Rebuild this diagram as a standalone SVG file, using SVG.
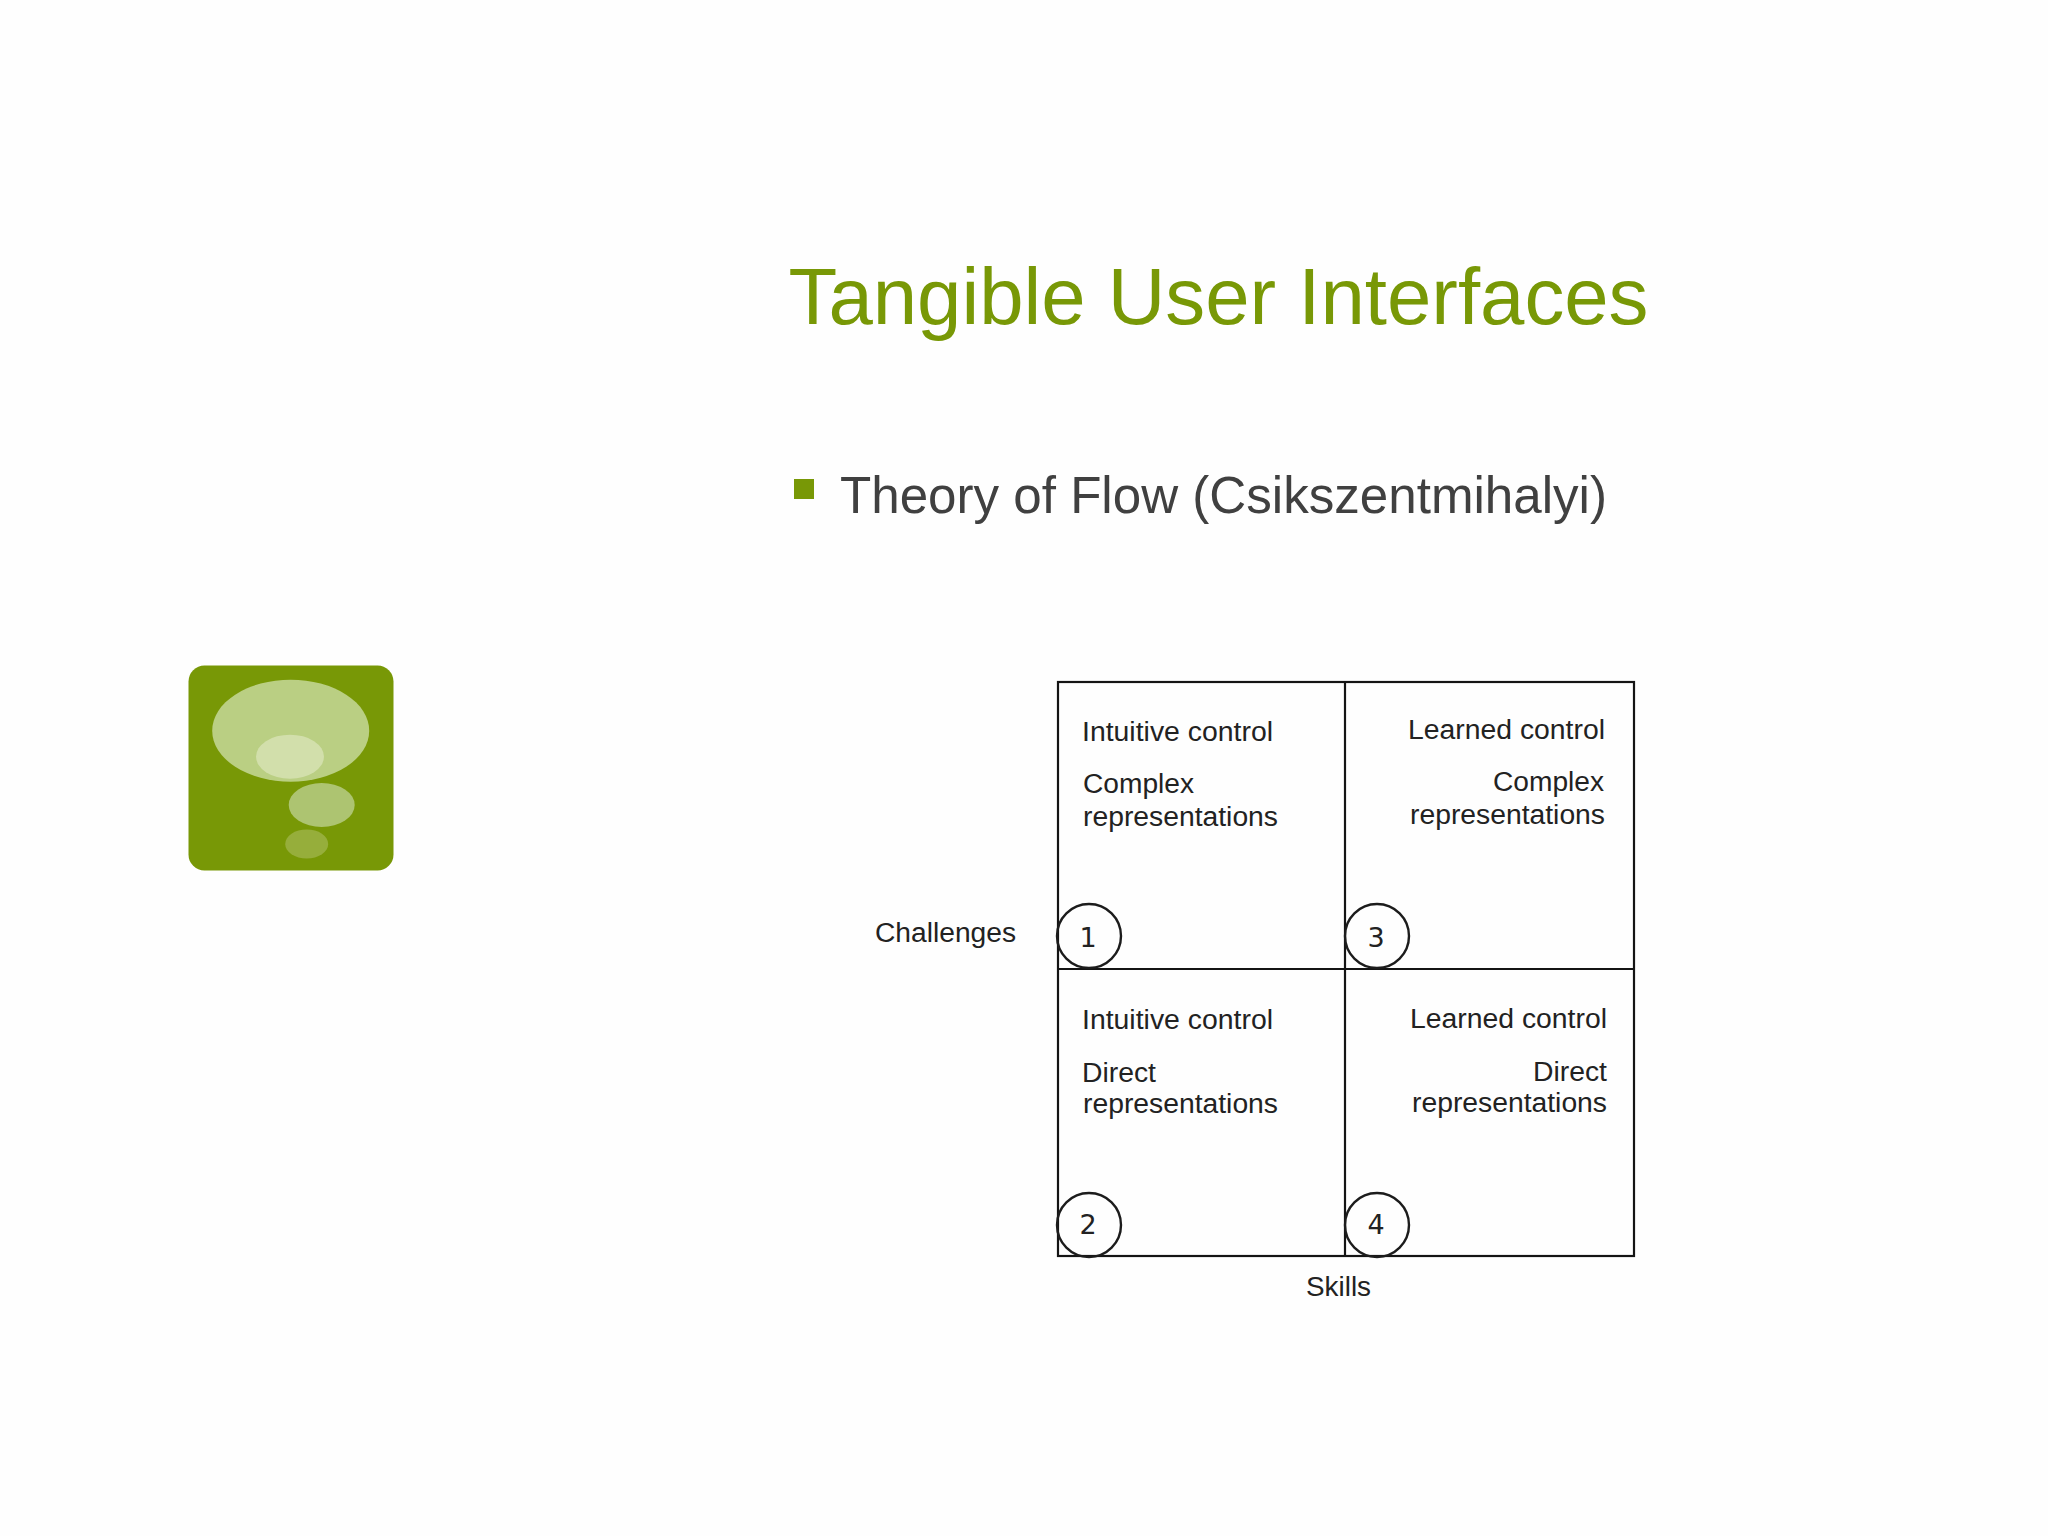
<svg xmlns="http://www.w3.org/2000/svg" width="2048" height="1536" viewBox="0 0 2048 1536">
<style>
text{font-family:"Liberation Sans",Arial,sans-serif;}
.t{font-size:27px;fill:#222}
.n{font-family:"DejaVu Sans",sans-serif;font-size:27px;fill:#222;text-anchor:middle}
.l{fill:none;stroke:#141414;stroke-width:2.2}
.c{fill:none;stroke:#1c1c1c;stroke-width:2.4}
</style>
<rect width="2048" height="1536" fill="#fefefe"/>
<g id="icon">
<rect x="188.5" y="665.5" width="205" height="205" rx="16" fill="#789806"/>
<ellipse cx="290.7" cy="730.7" rx="78.5" ry="51" fill="#bacf83"/>
<ellipse cx="290" cy="756.7" rx="34" ry="22" fill="#d2dfab"/>
<ellipse cx="321.7" cy="805" rx="33" ry="22" fill="#adc471"/>
<ellipse cx="306.7" cy="844" rx="21.5" ry="14.5" fill="#96ae3b"/>
</g>
<text id="title" x="788.5" y="323.5" font-size="79" fill="#789806" textLength="860" lengthAdjust="spacingAndGlyphs">Tangible User Interfaces</text>
<g id="bullet">
<rect x="794" y="479" width="20" height="20" fill="#789806"/>
<text x="840" y="513" font-size="52" fill="#404040" textLength="767" lengthAdjust="spacingAndGlyphs">Theory of Flow (Csikszentmihalyi)</text>
</g>
<g id="connectors">
<rect class="l" x="1058" y="682" width="576" height="574"/>
<path class="l" d="M1345 682V1256M1058 969H1634"/>
</g>
<g id="q1">
<text class="t" x="1082" y="740.5" textLength="191" lengthAdjust="spacingAndGlyphs">Intuitive control</text>
<text class="t" x="1083" y="793" textLength="111" lengthAdjust="spacingAndGlyphs">Complex</text>
<text class="t" x="1083" y="826" textLength="195" lengthAdjust="spacingAndGlyphs">representations</text>
<ellipse class="c" cx="1089" cy="936" rx="32" ry="32"/>
<text class="n" x="1088" y="947">1</text>
</g>
<g id="q3">
<text class="t" x="1408" y="739" textLength="197" lengthAdjust="spacingAndGlyphs">Learned control</text>
<text class="t" x="1493" y="791" textLength="111" lengthAdjust="spacingAndGlyphs">Complex</text>
<text class="t" x="1410" y="824" textLength="195" lengthAdjust="spacingAndGlyphs">representations</text>
<ellipse class="c" cx="1377" cy="936" rx="32" ry="32"/>
<text class="n" x="1376" y="947">3</text>
</g>
<g id="q2">
<text class="t" x="1082" y="1029" textLength="191" lengthAdjust="spacingAndGlyphs">Intuitive control</text>
<text class="t" x="1082" y="1082" textLength="74" lengthAdjust="spacingAndGlyphs">Direct</text>
<text class="t" x="1083" y="1113" textLength="195" lengthAdjust="spacingAndGlyphs">representations</text>
<ellipse class="c" cx="1089" cy="1225" rx="32" ry="32"/>
<text class="n" x="1088" y="1234">2</text>
</g>
<g id="q4">
<text class="t" x="1410" y="1027.5" textLength="197" lengthAdjust="spacingAndGlyphs">Learned control</text>
<text class="t" x="1533" y="1080.5" textLength="74" lengthAdjust="spacingAndGlyphs">Direct</text>
<text class="t" x="1412" y="1111.5" textLength="195" lengthAdjust="spacingAndGlyphs">representations</text>
<ellipse class="c" cx="1377" cy="1225" rx="32" ry="32"/>
<text class="n" x="1376" y="1234">4</text>
</g>
<text id="challenges" class="t" x="875" y="942" textLength="141" lengthAdjust="spacingAndGlyphs">Challenges</text>
<text id="skills" class="t" x="1306" y="1296" textLength="65" lengthAdjust="spacingAndGlyphs">Skills</text>
</svg>
